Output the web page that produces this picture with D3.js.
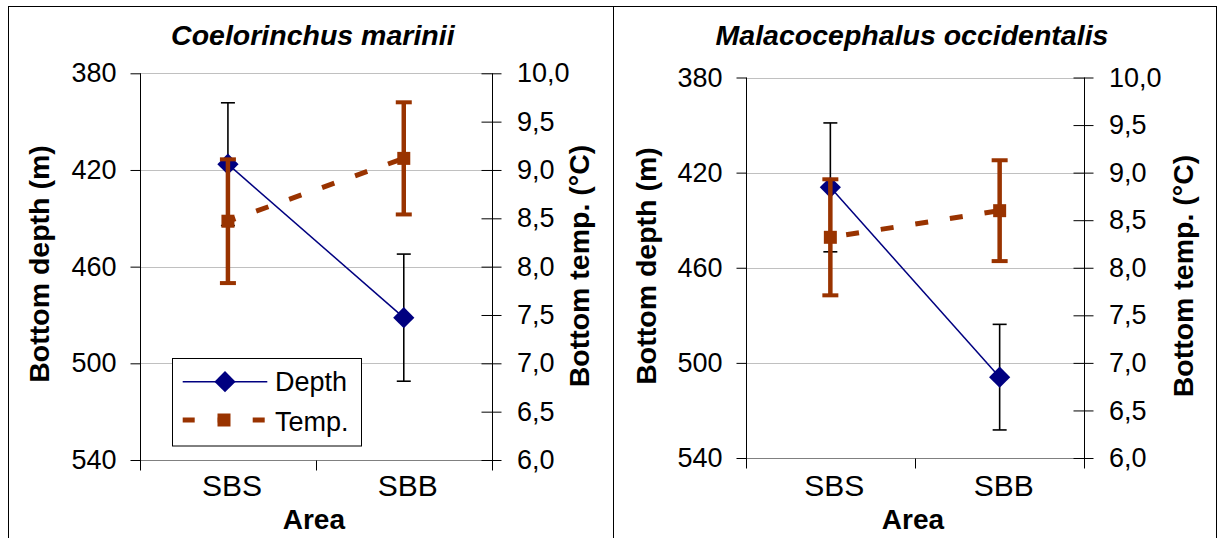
<!DOCTYPE html>
<html><head><meta charset="utf-8">
<script src="https://cdn.jsdelivr.net/npm/d3@7"></script>
<style>
html,body{margin:0;padding:0;background:#fff;}
svg{display:block;font-family:"Liberation Sans",Arial,sans-serif;}
</style></head><body>
<svg id="chart" width="1220" height="538"></svg>
<script>
// Categories and tick values
const categories = ["SBS", "SBB"];
const depthTicks = [380, 420, 460, 500, 540];
const tempTicks = [6.0, 6.5, 7.0, 7.5, 8.0, 8.5, 9.0, 9.5, 10.0];
const speciesNames = ["Coelorinchus marinii", "Malacocephalus occidentalis"];
const seriesNames = ["Depth", "Temp."];

// Coelorinchus marinii: mean and error (m, °C)
const depthMeanCm = [417.6, 481.1];
const depthErrCm = [25.4, 26.3];
const tempMeanCm = [8.47, 9.12];
const tempErrCm = [0.64, 0.58];

// Malacocephalus occidentalis: mean and error (m, °C)
const depthMeanMo = [426.2, 506.0];
const depthErrMo = [27.1, 22.2];
const tempMeanMo = [8.32, 8.60];
const tempErrMo = [0.61, 0.53];

const NAVY = "#000080", BROWN = "#993300";

const panels = [
  { name: speciesNames[0], depth: depthMeanCm, depthErr: depthErrCm, temp: tempMeanCm, tempErr: tempErrCm,
    frame: { x: 8, w: 605 }, plot: { x0: 140, x1: 491.7, y0: 73.3, y1: 460 },
    leftTitle: { x: 48.5, y: 264 }, rightTitle: { x: 589, y: 266 }, legend: true, dashOffset: 5 },
  { name: speciesNames[1], depth: depthMeanMo, depthErr: depthErrMo, temp: tempMeanMo, tempErr: tempErrMo,
    frame: { x: 613, w: 603 }, plot: { x0: 745.7, x1: 1084.3, y0: 77.5, y1: 458 },
    leftTitle: { x: 656, y: 266 }, rightTitle: { x: 1193, y: 276 }, legend: false, dashOffset: 19 }
];

const svg = d3.select("#chart");
svg.append("rect").attr("width", 1220).attr("height", 538).attr("fill", "#fff");

const fmtTemp = d => d3.format(".1f")(d).replace(".", ",");

panels.forEach(p => {
  const g = svg.append("g");
  const { x0, x1, y0, y1 } = p.plot;

  // chart frame
  g.append("rect").attr("x", p.frame.x + 0.5).attr("y", 6.5)
    .attr("width", p.frame.w).attr("height", 560)
    .attr("fill", "#fff").attr("stroke", "#000").attr("stroke-width", 1);

  const x = d3.scaleBand().domain(categories).range([x0, x1]);
  const cx = c => x(c) + x.bandwidth() / 2;
  const yD = d3.scaleLinear().domain([380, 540]).range([y0, y1]);
  const yT = d3.scaleLinear().domain([6, 10]).range([y1, y0]);

  // gridlines
  g.append("g").selectAll("line").data(depthTicks.slice(0, -1)).join("line")
    .attr("x1", x0).attr("x2", x1)
    .attr("y1", d => Math.round(yD(d)) + 0.5).attr("y2", d => Math.round(yD(d)) + 0.5)
    .attr("stroke", "#c0c0c0").attr("stroke-width", 1);

  // category axis line and boundary ticks
  const yb = Math.round(yD(540)) + 0.5;
  g.append("line").attr("x1", x0).attr("x2", x1).attr("y1", yb).attr("y2", yb)
    .attr("stroke", "#808080").attr("stroke-width", 1.2);
  const bounds = [x0, x0 + x.step(), x1];
  g.append("g").selectAll("line").data(bounds).join("line")
    .attr("x1", d => Math.round(d) + 0.5).attr("x2", d => Math.round(d) + 0.5)
    .attr("y1", yb).attr("y2", yb + 10).attr("stroke", "#000");

  // left depth axis
  const axL = g.append("g").attr("transform", `translate(${Math.round(x0) + 0.5},0)`)
    .call(d3.axisLeft(yD).tickValues(depthTicks).tickSize(10).tickPadding(14).tickSizeOuter(0));
  axL.select(".domain").remove();
  axL.append("line").attr("y1", y0).attr("y2", y1 + 10).attr("stroke", "#000");
  axL.selectAll(".tick line").attr("stroke", "#000");
  axL.selectAll(".tick text").attr("font-size", 27).attr("fill", "#000")
    .attr("font-family", "Liberation Sans, Arial, sans-serif");

  // right temperature axis
  const axR = g.append("g").attr("transform", `translate(${Math.round(x1) + 0.5},0)`)
    .call(d3.axisRight(yT).tickValues(tempTicks).tickFormat(fmtTemp).tickSize(9).tickPadding(15.5).tickSizeOuter(0));
  axR.select(".domain").remove();
  axR.append("line").attr("y1", y0).attr("y2", y1 + 10).attr("stroke", "#000");
  axR.selectAll(".tick line").attr("x1", -11).attr("x2", 9).attr("stroke", "#000");
  axR.selectAll(".tick text").attr("font-size", 27).attr("fill", "#000")
    .attr("font-family", "Liberation Sans, Arial, sans-serif");

  // category labels
  g.append("g").selectAll("text").data(categories).join("text")
    .attr("x", d => cx(d) + 4).attr("y", 495.5)
    .attr("text-anchor", "middle").attr("font-size", 30).text(d => d);

  // titles
  g.append("text").attr("x", (x0 + x1) / 2 - 3).attr("y", 44.6).attr("text-anchor", "middle")
    .attr("font-size", 28.5).attr("font-weight", "bold").attr("font-style", "italic").text(p.name);
  g.append("text").attr("x", (x0 + x1) / 2 - 2).attr("y", 528.5).attr("text-anchor", "middle")
    .attr("font-size", 28).attr("font-weight", "bold").text("Area");
  g.append("text").attr("transform", `translate(${p.leftTitle.x},${p.leftTitle.y}) rotate(-90)`)
    .attr("text-anchor", "middle").attr("font-size", 28.5).attr("font-weight", "bold").text("Bottom depth (m)");
  g.append("text").attr("transform", `translate(${p.rightTitle.x},${p.rightTitle.y}) rotate(-90)`)
    .attr("text-anchor", "middle").attr("font-size", 28.5).attr("font-weight", "bold").text("Bottom temp. (°C)");

  const depthData = categories.map((c, i) => ({ c, v: p.depth[i], e: p.depthErr[i] }));
  const tempData = categories.map((c, i) => ({ c, v: p.temp[i], e: p.tempErr[i] }));

  // depth series
  g.append("path").datum(depthData)
    .attr("d", d3.line().x(d => cx(d.c)).y(d => yD(d.v)))
    .attr("fill", "none").attr("stroke", NAVY).attr("stroke-width", 1.5);
  const eD = g.append("g").attr("stroke", "#000").attr("stroke-width", 1.6);
  eD.selectAll(".v").data(depthData).join("line").attr("class", "v")
    .attr("x1", d => cx(d.c)).attr("x2", d => cx(d.c))
    .attr("y1", d => yD(d.v - d.e)).attr("y2", d => yD(d.v + d.e));
  [-1, 1].forEach(s => {
    eD.selectAll(".c" + (s + 1)).data(depthData).join("line").attr("class", "c" + (s + 1))
      .attr("x1", d => cx(d.c) - 7).attr("x2", d => cx(d.c) + 7)
      .attr("y1", d => yD(d.v + s * d.e)).attr("y2", d => yD(d.v + s * d.e));
  });
  g.append("g").selectAll("path").data(depthData).join("path")
    .attr("d", d3.symbol(d3.symbolSquare, 225))
    .attr("transform", d => `translate(${cx(d.c)},${yD(d.v)}) rotate(45)`)
    .attr("fill", NAVY);

  // temperature series
  g.append("path").datum(tempData)
    .attr("d", d3.line().x(d => cx(d.c)).y(d => yT(d.v)))
    .attr("fill", "none").attr("stroke", BROWN).attr("stroke-width", 5)
    .attr("stroke-dasharray", "13,22").attr("stroke-dashoffset", p.dashOffset);
  const eT = g.append("g").attr("stroke", BROWN);
  eT.selectAll(".v").data(tempData).join("line").attr("class", "v")
    .attr("stroke-width", 4.5)
    .attr("x1", d => cx(d.c)).attr("x2", d => cx(d.c))
    .attr("y1", d => yT(d.v - d.e)).attr("y2", d => yT(d.v + d.e));
  [-1, 1].forEach(s => {
    eT.selectAll(".c" + (s + 1)).data(tempData).join("line").attr("class", "c" + (s + 1))
      .attr("stroke-width", 4)
      .attr("x1", d => cx(d.c) - 8).attr("x2", d => cx(d.c) + 8)
      .attr("y1", d => yT(d.v + s * d.e)).attr("y2", d => yT(d.v + s * d.e));
  });
  g.append("g").selectAll("path").data(tempData).join("path")
    .attr("d", d3.symbol(d3.symbolSquare, 169))
    .attr("transform", d => `translate(${cx(d.c)},${yT(d.v)})`)
    .attr("fill", BROWN);

  // legend
  if (p.legend) {
    const lg = g.append("g");
    lg.append("rect").attr("x", 172.5).attr("y", 358.5).attr("width", 189).attr("height", 87.5)
      .attr("fill", "#fff").attr("stroke", "#000").attr("stroke-width", 1);
    lg.append("line").attr("x1", 182.7).attr("x2", 267.3).attr("y1", 381.7).attr("y2", 381.7)
      .attr("stroke", NAVY).attr("stroke-width", 1.5);
    lg.append("path").attr("d", d3.symbol(d3.symbolSquare, 225))
      .attr("transform", "translate(225,381.7) rotate(45)").attr("fill", NAVY);
    lg.append("line").attr("x1", 182.7).attr("x2", 267.3).attr("y1", 420).attr("y2", 420)
      .attr("stroke", BROWN).attr("stroke-width", 5).attr("stroke-dasharray", "12,23");
    lg.append("path").attr("d", d3.symbol(d3.symbolSquare, 169))
      .attr("transform", "translate(224,420)").attr("fill", BROWN);
    lg.selectAll("text").data(seriesNames).join("text")
      .attr("x", 275).attr("y", (d, i) => i === 0 ? 390.5 : 430.5)
      .attr("font-size", 27).text(d => d);
  }
});
</script>
</body></html>
